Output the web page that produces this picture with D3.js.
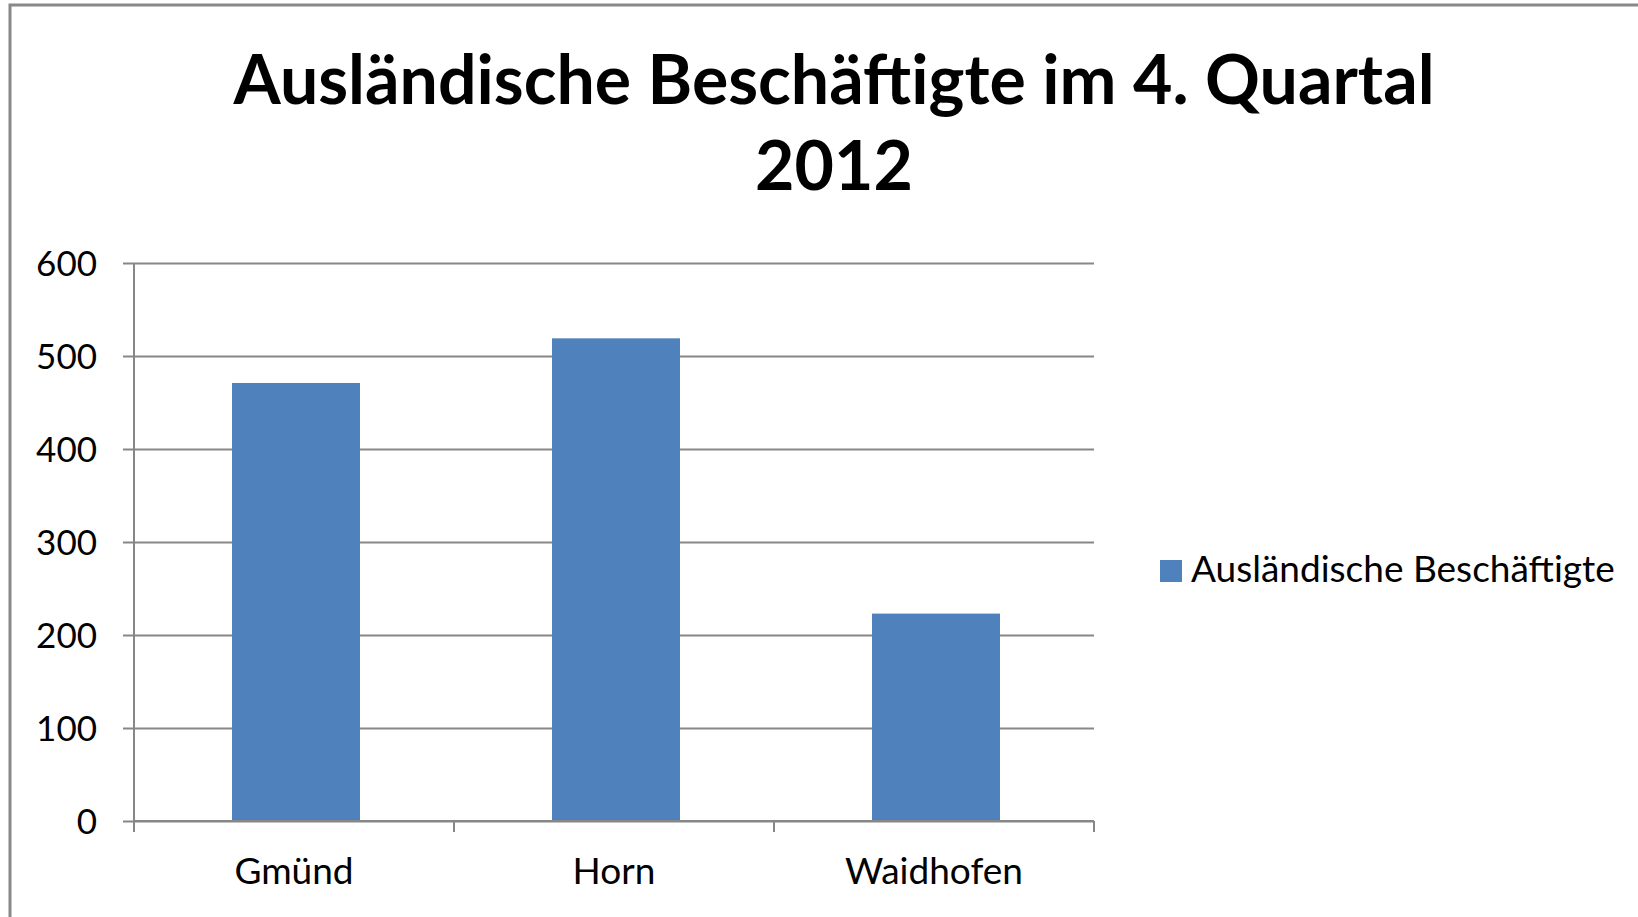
<!DOCTYPE html>
<html>
<head>
<meta charset="utf-8">
<script src="https://cdn.jsdelivr.net/npm/d3@7"></script>
<style>
  body { margin: 0; background: #fff; }
  svg { display: block; }
  text { font-family: Lato, "Open Sans", sans-serif; fill: #000; }
</style>
</head>
<body>
<div id="chart"></div>
<script>
// data
var categories = ["Gmünd", "Horn", "Waidhofen"];
var values = [471, 519, 223];
var seriesName = "Ausländische Beschäftigte";
var yTicks = [0, 100, 200, 300, 400, 500, 600];
var titleLines = ["Ausländische Beschäftigte im 4. Quartal", "2012"];

var svgWidth = 1638;
var svgHeight = 917;

var svg = d3.select("#chart")
    .append("svg")
    .attr("width", svgWidth)
    .attr("height", svgHeight);

// outer chart border (only top + left show in the crop)
svg.append("rect")
    .attr("x", 10)
    .attr("y", 5)
    .attr("width", svgWidth)
    .attr("height", svgHeight)
    .attr("fill", "none")
    .attr("stroke", "#888")
    .attr("stroke-width", 3);

var plot = { left: 134, right: 1094, top: 263, bottom: 821 };

var xScale = d3.scaleBand()
    .domain(categories)
    .range([plot.left, plot.right])
    .paddingInner(0.6)
    .paddingOuter(0.3);

var yScale = d3.scaleLinear()
    .domain([0, 600])
    .range([plot.bottom, plot.top]);

// gridlines + y axis
var yAxis = d3.axisLeft(yScale)
    .tickValues(yTicks)
    .tickSize(-(plot.right - plot.left))
    .tickPadding(37);

var yG = svg.append("g")
    .attr("transform", `translate(${plot.left}, 0)`)
    .call(yAxis);
yG.select(".domain").remove();
yG.selectAll(".tick line")
    .attr("x1", -11)
    .attr("stroke", "#878787")
    .attr("stroke-width", 2);
yG.selectAll(".tick text")
    .attr("font-size", 35)
    .attr("font-family", "Lato, sans-serif")
    .attr("fill", "#000")
    .attr("dy", "0.36em");

// y axis line
svg.append("line")
    .attr("x1", plot.left).attr("x2", plot.left)
    .attr("y1", plot.top).attr("y2", plot.bottom)
    .attr("stroke", "#878787")
    .attr("stroke-width", 2);

// bars
svg.selectAll("rect.bar")
    .data(values)
    .enter()
    .append("rect")
    .attr("class", "bar")
    .attr("x", (d, i) => xScale(categories[i]) + 2)
    .attr("y", d => yScale(d))
    .attr("width", xScale.bandwidth())
    .attr("height", d => yScale(0) - yScale(d))
    .attr("fill", "#4F81BD");

// x axis line + ticks at category boundaries
svg.append("line")
    .attr("x1", plot.left).attr("x2", plot.right)
    .attr("y1", plot.bottom).attr("y2", plot.bottom)
    .attr("stroke", "#878787")
    .attr("stroke-width", 2);

var boundaries = d3.range(categories.length + 1)
    .map(i => plot.left + i * xScale.step());
svg.selectAll("line.xtick")
    .data(boundaries)
    .enter()
    .append("line")
    .attr("class", "xtick")
    .attr("x1", d => d).attr("x2", d => d)
    .attr("y1", plot.bottom).attr("y2", plot.bottom + 11)
    .attr("stroke", "#878787")
    .attr("stroke-width", 2);

svg.selectAll("text.xlabel")
    .data(categories)
    .enter()
    .append("text")
    .attr("class", "xlabel")
    .attr("x", d => xScale(d) + xScale.bandwidth() / 2)
    .attr("y", 884)
    .attr("text-anchor", "middle")
    .attr("font-size", 37)
    .text(d => d);

// title
svg.selectAll("text.title")
    .data(titleLines)
    .enter()
    .append("text")
    .attr("class", "title")
    .attr("x", 834)
    .attr("y", (d, i) => 104 + i * 86)
    .attr("text-anchor", "middle")
    .attr("font-size", 68)
    .attr("font-weight", "bold")
    .text(d => d);

// legend
svg.append("rect")
    .attr("x", 1160)
    .attr("y", 560)
    .attr("width", 22)
    .attr("height", 22)
    .attr("fill", "#4F81BD");

svg.append("text")
    .attr("x", 1191)
    .attr("y", 582)
    .attr("font-size", 37)
    .text(seriesName);
</script>
</body>
</html>
